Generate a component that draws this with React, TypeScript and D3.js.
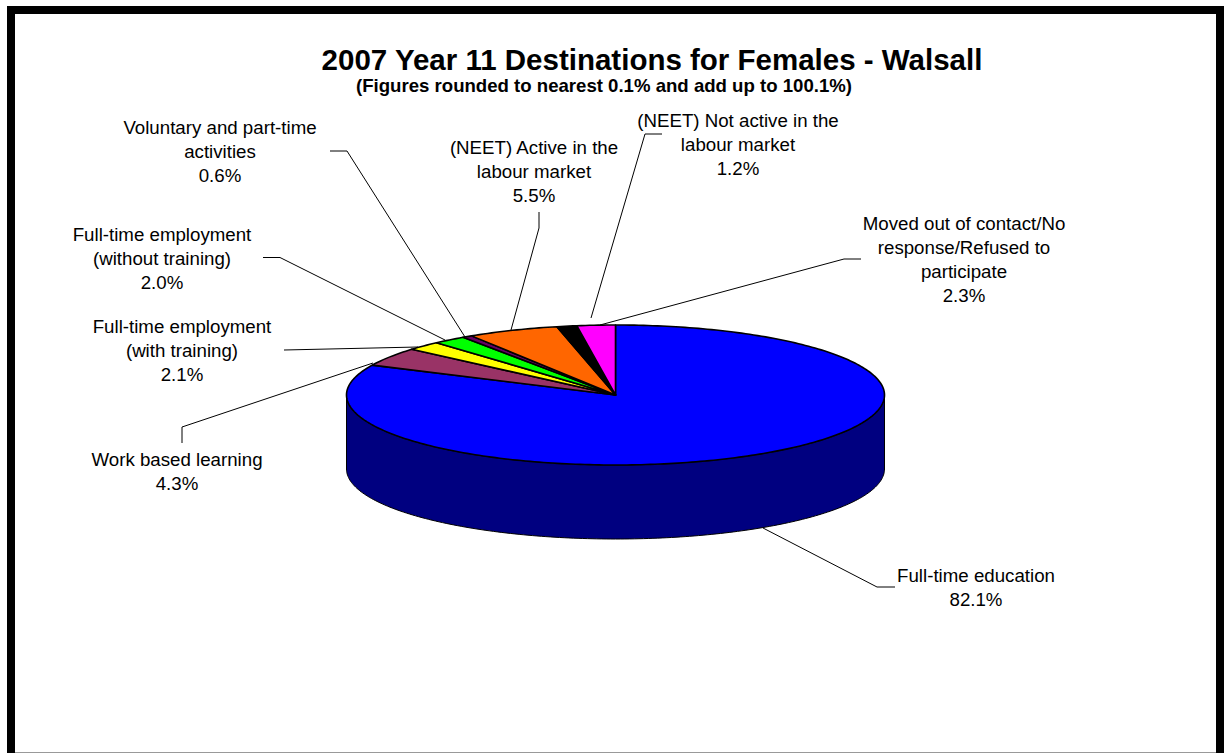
import React from "react";
import * as d3 from "d3";

const categories = [
  "Full-time education",
  "Work based learning",
  "Full-time employment (with training)",
  "Full-time employment (without training)",
  "Voluntary and part-time activities",
  "(NEET) Active in the labour market",
  "(NEET) Not active in the labour market",
  "Moved out of contact/No response/Refused to participate",
];
const values = [82.1, 4.3, 2.1, 2.0, 0.6, 5.5, 1.2, 2.3];
const colors = ["#0000ff", "#993366", "#ffff00", "#00ff00", "#660066", "#ff6600", "#000000", "#ff00ff"];
const labelLines = [
  ["Full-time education"],
  ["Work based learning"],
  ["Full-time employment", "(with training)"],
  ["Full-time employment", "(without training)"],
  ["Voluntary and part-time", "activities"],
  ["(NEET) Active in the", "labour market"],
  ["(NEET) Not active in the", "labour market"],
  ["Moved out of contact/No", "response/Refused to", "participate"],
];
// label centre x, first baseline y
const labelPos = [
  [976, 582], [177, 466], [182, 333], [162, 241], [220, 134], [534, 154], [738, 127], [964, 230],
];
// leader polylines, from label to pie edge
const leaders = [
  [[895, 587], [877, 587], [763, 528]],
  [[182, 443], [182, 427], [373, 363]],
  [[284, 350], [418, 347]],
  [[263, 257.5], [280, 257.5], [445, 340]],
  [[330, 151], [347, 151], [465, 337]],
  [[539, 212], [539, 228], [511, 330]],
  [[662, 134], [645, 134], [591, 318]],
  [[861, 259], [844, 259], [600, 325]],
];

const W = 1224, H = 753;
const cx = 615.5, cy = 395, rx = 269, ry = 70, depth = 74;

const px = (a: number) => cx + rx * Math.sin(a);
const py = (a: number) => cy - ry * Math.cos(a);
const line = d3.line<[number, number]>().x((d) => d[0]).y((d) => d[1]);

function sliceArc(start: number, end: number) {
  const n = Math.max(2, Math.ceil(((end - start) / (2 * Math.PI)) * 360));
  const a = d3.scaleLinear().domain([0, n]).range([start, end]);
  return d3.range(n + 1).map((i) => [px(a(i)), py(a(i))] as [number, number]);
}

export default function App() {
  const arcs = d3.pie<number>().sort(null).value((d) => d)(values);
  const top = sliceArc(Math.PI / 2, (3 * Math.PI) / 2);
  const side = [...top, ...[...top].reverse().map(([x, y]) => [x, y + depth] as [number, number])];
  const font = "'Liberation Sans', Arial, sans-serif";
  return (
    <svg
      width={W}
      height={H}
      viewBox={`0 0 ${W} ${H}`}
      style={{ position: "fixed", left: 0, top: 0, background: "#fff" }}
      fontFamily={font}
    >
      <rect x={7} y={6} width={W - 7} height={H - 6} fill="#000" />
      <rect x={15} y={14} width={1201} height={738} fill="#fff" />
      <rect x={15} y={752} width={1201} height={1} fill="#999" />

      <text x={652} y={70} textAnchor="middle" fontWeight="bold" fontSize={29.5} fill="#000">
        2007 Year 11 Destinations for Females - Walsall
      </text>
      <text x={604} y={92} textAnchor="middle" fontWeight="bold" fontSize={18.6} fill="#000">
        (Figures rounded to nearest 0.1% and add up to 100.1%)
      </text>

      <path d={line(side) + "Z"} fill="#000080" stroke="#000" strokeWidth={1} />
      {arcs.map((a, i) => (
        <path
          key={categories[i]}
          d={line([[cx, cy], ...sliceArc(a.startAngle, a.endAngle)] as [number, number][])! + "Z"}
          fill={colors[i]}
          stroke="#000"
          strokeWidth={1.6}
          strokeLinejoin="round"
        />
      ))}

      {leaders.map((pts, i) => (
        <path key={i} d={line(pts as [number, number][])!} fill="none" stroke="#000" strokeWidth={1} />
      ))}

      {labelLines.map((lines, i) => (
        <text key={i} textAnchor="middle" fontSize={18.7} fill="#000">
          {[...lines, `${values[i].toFixed(1)}%`].map((t, j) => (
            <tspan key={j} x={labelPos[i][0]} y={labelPos[i][1] + j * 24}>
              {t}
            </tspan>
          ))}
        </text>
      ))}
    </svg>
  );
}
